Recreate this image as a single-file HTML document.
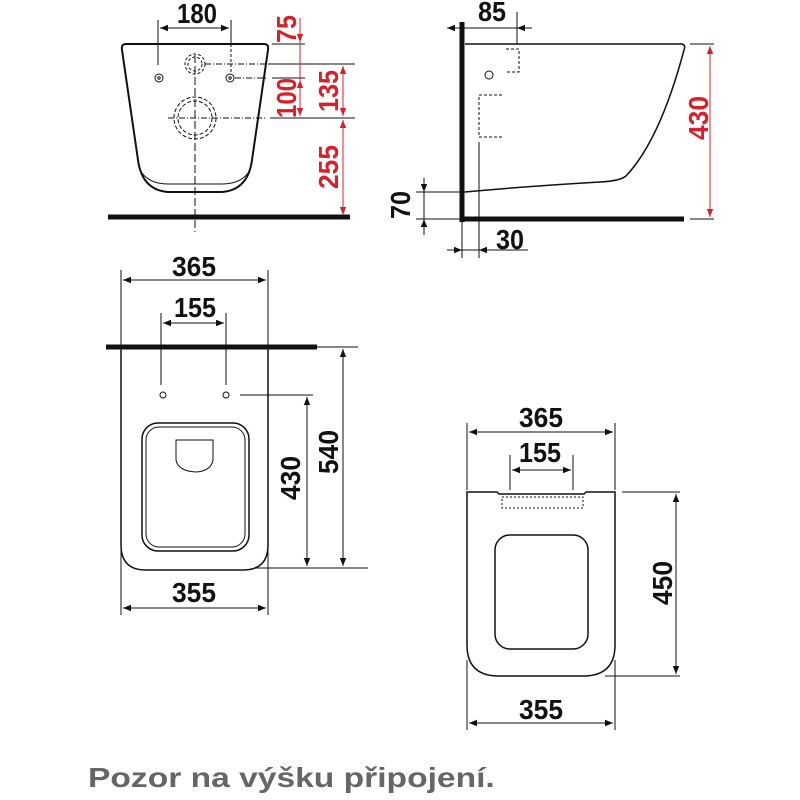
<!DOCTYPE html>
<html><head><style>body{margin:0;background:#fff}svg{display:block}</style></head><body>
<svg width="800" height="800" viewBox="0 0 800 800" xmlns="http://www.w3.org/2000/svg" font-family="Liberation Sans, sans-serif" font-weight="bold">
<defs>
<marker id="a" viewBox="0 0 10 10" refX="10" refY="5" markerWidth="12" markerHeight="8" orient="auto-start-reverse" markerUnits="userSpaceOnUse"><path d="M0,1 L10,5 L0,9 Z" fill="#111"/></marker>
<marker id="r" viewBox="0 0 10 10" refX="10" refY="5" markerWidth="12" markerHeight="8" orient="auto-start-reverse" markerUnits="userSpaceOnUse"><path d="M0,1 L10,5 L0,9 Z" fill="#d8202a"/></marker>
</defs>
<g fill="none" stroke="#111" stroke-width="1">
<path d="M126,44 L264,44 Q269,44 268,50 L252,160 Q248,190 222,192 L168,192 Q142,190 138,160 L122,50 Q121,44 126,44Z" stroke-width="2"/>
<path d="M140,170 Q148,184 168,184 L222,184 Q242,184 250,170"/>
<line x1="108" y1="217" x2="350" y2="217" stroke-width="5"/>
<line x1="195" y1="55" x2="195" y2="232" stroke-dasharray="8,3"/>
<circle cx="159" cy="78" r="4"/><circle cx="159" cy="78" r="1.2"/>
<circle cx="230" cy="78" r="4"/><circle cx="230" cy="78" r="1.2"/>
<circle cx="195" cy="64" r="10" stroke-dasharray="3,2"/><circle cx="195" cy="64" r="7" stroke-dasharray="3,2"/>
<circle cx="195" cy="118" r="21" stroke-dasharray="4,2"/><circle cx="195" cy="118" r="17" stroke-dasharray="4,2"/>
<line x1="168" y1="118" x2="265" y2="118" stroke-dasharray="6,2,1,2"/>
<line x1="205" y1="64" x2="268" y2="64" stroke-dasharray="6,2,1,2"/>
<line x1="235" y1="78" x2="268" y2="78" stroke-dasharray="6,2,1,2"/>
<line x1="158" y1="20" x2="158" y2="65"/><line x1="231" y1="20" x2="231" y2="44"/><line x1="231" y1="44" x2="231" y2="74" stroke-dasharray="3,2"/>
<line x1="160" y1="28" x2="229" y2="28" marker-start="url(#a)" marker-end="url(#a)"/>
<line x1="272" y1="44" x2="305" y2="44"/><line x1="268" y1="64" x2="355" y2="64"/>
<line x1="272" y1="78" x2="305" y2="78"/><line x1="270" y1="118" x2="355" y2="118"/>
<line x1="462" y1="22" x2="462" y2="222" stroke-width="5"/>
<line x1="460" y1="219" x2="684" y2="219" stroke-width="5"/>
<path d="M465,44 L682,44 Q686,45 684,50 Q660,140 626,176 Q620,181 600,182 Q530,186 465,192" stroke-width="1.5"/>
<line x1="517" y1="12" x2="517" y2="44"/>
<line x1="447" y1="28" x2="462" y2="28" marker-start="url(#a)"/><line x1="462" y1="28" x2="532" y2="28"/><line x1="517" y1="28" x2="532" y2="28" marker-start="url(#a)"/>
<path d="M506,49 L519,49 L519,72 L506,72" stroke-dasharray="3,2"/>
<circle cx="489" cy="75" r="4"/>
<path d="M502,95 L479,95 L479,137 L503,137" stroke-dasharray="3,2"/>
<line x1="479" y1="142" x2="479" y2="258"/>
<line x1="690" y1="44" x2="714" y2="44"/><line x1="690" y1="219" x2="714" y2="219"/>
<line x1="416" y1="192" x2="465" y2="192"/><line x1="416" y1="219" x2="462" y2="219"/>
<line x1="424" y1="178" x2="424" y2="192" marker-end="url(#a)"/><line x1="424" y1="192" x2="424" y2="219"/><line x1="424" y1="235" x2="424" y2="219" marker-end="url(#a)"/>
<line x1="462" y1="222" x2="462" y2="258"/>
<line x1="447" y1="250" x2="462" y2="250" marker-end="url(#a)"/><line x1="462" y1="250" x2="479" y2="250"/><line x1="528" y1="250" x2="479" y2="250" marker-end="url(#a)"/>
<line x1="121" y1="270" x2="121" y2="345"/><line x1="268" y1="270" x2="268" y2="345"/>
<line x1="123" y1="280" x2="266" y2="280" marker-start="url(#a)" marker-end="url(#a)"/>
<line x1="161" y1="313" x2="161" y2="385"/><line x1="226" y1="313" x2="226" y2="385"/>
<line x1="163" y1="323" x2="224" y2="323" marker-start="url(#a)" marker-end="url(#a)"/>
<line x1="106" y1="347" x2="317" y2="347" stroke-width="5"/><line x1="317" y1="347" x2="358" y2="347"/>
<path d="M121,349 L121,545 Q121,570 146,570 L243,570 Q268,570 268,545 L268,349" stroke-width="1.5"/>
<circle cx="163" cy="395" r="3"/><circle cx="226" cy="395" r="3"/>
<rect x="142" y="423" width="107" height="128" rx="16" stroke-width="1.5"/>
<rect x="146" y="427" width="99" height="120" rx="13"/>
<path d="M176,440 L213,440 L213,460 Q211,471 196,472 Q178,471 176,460 Z"/>
<line x1="240" y1="395" x2="313" y2="395"/><line x1="255" y1="568" x2="368" y2="568"/>
<line x1="307" y1="397" x2="307" y2="566" marker-start="url(#a)" marker-end="url(#a)"/>
<line x1="343" y1="349" x2="343" y2="566" marker-start="url(#a)" marker-end="url(#a)"/>
<line x1="121" y1="550" x2="121" y2="615"/><line x1="268" y1="550" x2="268" y2="615"/>
<line x1="123" y1="608" x2="266" y2="608" marker-start="url(#a)" marker-end="url(#a)"/>
<line x1="467" y1="423" x2="467" y2="490"/><line x1="615" y1="423" x2="615" y2="490"/>
<line x1="469" y1="432" x2="613" y2="432" marker-start="url(#a)" marker-end="url(#a)"/>
<line x1="510" y1="455" x2="510" y2="490"/><line x1="573" y1="455" x2="573" y2="490"/>
<line x1="512" y1="470" x2="571" y2="470" marker-start="url(#a)" marker-end="url(#a)"/>
<path d="M467,492 L497,492 L499,494 L584,494 L586,492 L615,492 L615,645 Q615,675 585,676 L497,676 Q467,675 467,645 Z" stroke-width="1.5"/>
<path d="M502,497 L583,497 L583,508 L502,508 Z" stroke-dasharray="2,2"/>
<rect x="495" y="535" width="93" height="114" rx="15" stroke-width="1.5"/>
<line x1="622" y1="492" x2="680" y2="492"/><line x1="605" y1="676" x2="680" y2="676"/>
<line x1="676" y1="494" x2="676" y2="674" marker-start="url(#a)" marker-end="url(#a)"/>
<line x1="467" y1="660" x2="467" y2="730"/><line x1="615" y1="660" x2="615" y2="730"/>
<line x1="469" y1="723" x2="613" y2="723" marker-start="url(#a)" marker-end="url(#a)"/>
</g>
<g stroke="#d8202a" stroke-width="1" fill="none">
<line x1="300" y1="18" x2="300" y2="42" marker-end="url(#r)"/>
<line x1="300" y1="42" x2="300" y2="80"/>
<line x1="300" y1="80" x2="300" y2="116" marker-start="url(#r)" marker-end="url(#r)"/>
<line x1="343" y1="66" x2="343" y2="116" marker-start="url(#r)" marker-end="url(#r)"/>
<line x1="343" y1="120" x2="343" y2="215" marker-start="url(#r)" marker-end="url(#r)"/>
<line x1="710" y1="46" x2="710" y2="217" marker-start="url(#r)" marker-end="url(#r)"/>
</g>
<g fill="#111" font-size="28" text-anchor="middle">
<text x="197" y="23" textLength="40" lengthAdjust="spacingAndGlyphs">180</text>
<text x="492" y="21" textLength="28" lengthAdjust="spacingAndGlyphs">85</text>
<text x="510" y="249" textLength="28" lengthAdjust="spacingAndGlyphs">30</text>
<text transform="translate(410,205) rotate(-90)" textLength="28" lengthAdjust="spacingAndGlyphs">70</text>
<text x="194" y="276" textLength="44" lengthAdjust="spacingAndGlyphs">365</text>
<text x="195" y="317" textLength="42" lengthAdjust="spacingAndGlyphs">155</text>
<text x="194" y="602" textLength="44" lengthAdjust="spacingAndGlyphs">355</text>
<text transform="translate(300,478) rotate(-90)" textLength="44" lengthAdjust="spacingAndGlyphs">430</text>
<text transform="translate(338,452) rotate(-90)" textLength="44" lengthAdjust="spacingAndGlyphs">540</text>
<text x="541" y="427" textLength="44" lengthAdjust="spacingAndGlyphs">365</text>
<text x="540" y="462" textLength="42" lengthAdjust="spacingAndGlyphs">155</text>
<text x="541" y="719" textLength="44" lengthAdjust="spacingAndGlyphs">355</text>
<text transform="translate(672,583) rotate(-90)" textLength="44" lengthAdjust="spacingAndGlyphs">450</text>
</g>
<g fill="#d8202a" font-size="28" text-anchor="middle">
<text transform="translate(296,29) rotate(-90)" textLength="28" lengthAdjust="spacingAndGlyphs">75</text>
<text transform="translate(296,98) rotate(-90)" textLength="40" lengthAdjust="spacingAndGlyphs">100</text>
<text transform="translate(338,91) rotate(-90)" textLength="42" lengthAdjust="spacingAndGlyphs">135</text>
<text transform="translate(338,167) rotate(-90)" textLength="44" lengthAdjust="spacingAndGlyphs">255</text>
<text transform="translate(708,118) rotate(-90)" textLength="44" lengthAdjust="spacingAndGlyphs">430</text>
</g>
<text transform="translate(88,787) scale(1.2,1)" fill="#666" font-size="28">Pozor na výšku připojení.</text>
</svg>
</body></html>
